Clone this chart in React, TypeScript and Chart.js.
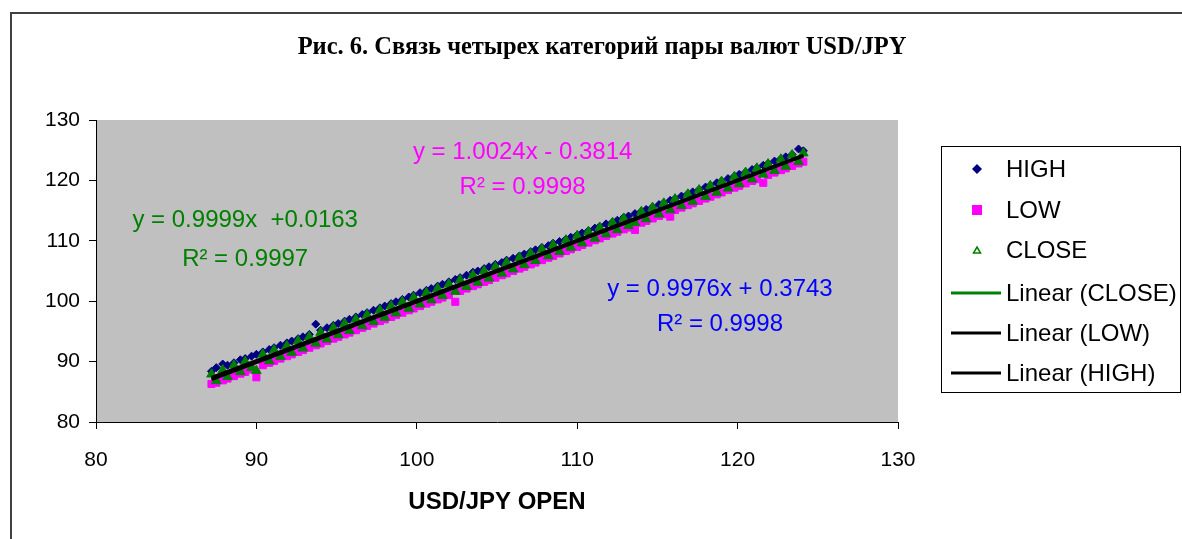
import { useEffect, useRef } from "react";
import { Chart, registerables } from "chart.js";

Chart.register(...registerables);

const OPEN = [
  87.2, 87.5, 87.9, 88.2, 88.6, 89.0, 89.3, 89.7, 90.0, 90.4,
  90.8, 91.1, 91.5, 91.9, 92.2, 92.6, 92.9, 93.3, 93.7, 94.0,
  94.4, 94.8, 95.1, 95.5, 95.8, 96.2, 96.6, 96.9, 97.3, 97.7,
  98.0, 98.4, 98.7, 99.1, 99.5, 99.8, 100.2, 100.6, 100.9, 101.3,
  101.6, 102.0, 102.4, 102.7, 103.1, 103.5, 103.8, 104.2, 104.5, 104.9,
  105.3, 105.6, 106.0, 106.4, 106.7, 107.1, 107.4, 107.8, 108.2, 108.5,
  108.9, 109.3, 109.6,
  110.0, 110.3, 110.7, 111.1, 111.4, 111.8, 112.2, 112.5, 112.9, 113.2,
  113.6, 114.0, 114.3, 114.7, 115.1, 115.4, 115.8, 116.1, 116.5, 116.9,
  117.2, 117.6, 118.0, 118.3, 118.7, 119.0, 119.4, 119.8, 120.1, 120.5,
  120.9, 121.2, 121.6, 121.9, 122.3, 122.7, 123.0, 123.4, 123.8, 124.1,
];

const HIGH = [
  88.4, 89.0, 89.6, 89.4, 89.8, 90.3, 90.5, 90.9, 91.2, 91.6,
  92.0, 92.3, 92.7, 93.1, 93.4, 93.8, 94.1, 94.5, 96.2, 95.2,
  95.6, 96.0, 96.3, 96.7, 97.0, 97.4, 97.8, 98.1, 98.5, 98.9,
  99.2, 99.6, 99.9, 100.3, 100.7, 101.0, 101.4, 101.8, 102.1, 102.5,
  102.8, 103.2, 103.6, 103.9, 104.3, 104.8, 105.0, 105.4, 105.7, 106.1,
  106.4, 106.8, 107.1, 107.5, 107.8, 108.2, 108.5, 108.9, 109.2, 109.6,
  109.9, 110.3, 110.6,
  111.0, 111.3, 111.7, 112.1, 112.4, 112.8, 113.1, 113.4, 113.9, 114.1,
  114.5, 114.9, 115.2, 115.6, 116.0, 116.3, 116.7, 117.0, 117.4, 117.8,
  118.1, 118.5, 118.9, 119.2, 119.6, 119.9, 120.3, 120.7, 121.0, 121.4,
  121.8, 122.1, 122.5, 122.8, 123.2, 123.6, 123.9, 124.3, 125.2, 124.9,
];

const LOW = [
  86.3, 86.5, 86.9, 87.2, 87.6, 88.0, 88.3, 88.7, 87.4, 89.4,
  89.8, 90.1, 90.5, 90.9, 91.2, 91.6, 91.9, 92.3, 92.7, 93.0,
  93.4, 93.8, 94.1, 94.5, 94.8, 95.2, 95.6, 95.9, 96.3, 96.7,
  97.0, 97.4, 97.7, 98.1, 98.5, 98.8, 99.2, 99.6, 99.9, 100.3,
  100.6, 101.0, 99.9, 101.7, 102.1, 102.5, 102.8, 103.2, 103.5, 103.9,
  104.3, 104.6, 105.0, 105.4, 105.7, 106.1, 106.4, 106.8, 107.2, 107.5,
  107.9, 108.3, 108.6,
  109.0, 109.3, 109.7, 110.1, 110.4, 110.8, 111.2, 111.5, 111.9, 112.2,
  111.8, 113.0, 113.3, 113.7, 114.1, 114.4, 114.0, 115.1, 115.5, 115.9,
  116.2, 116.6, 117.0, 117.3, 117.7, 118.0, 118.4, 118.8, 119.1, 119.5,
  119.9, 120.2, 119.6, 120.9, 121.3, 121.7, 122.0, 122.4, 122.8, 123.1,
];

const CLOSE = [
  87.9, 86.8, 88.6, 87.5, 89.4, 88.3, 90.0, 89.0, 88.5, 91.2,
  90.1, 91.9, 90.8, 92.6, 91.5, 93.4, 92.2, 94.1, 93.0, 94.8,
  93.7, 95.6, 94.4, 96.3, 95.1, 97.0, 95.9, 97.7, 96.6, 98.5,
  97.3, 99.2, 98.0, 99.9, 98.8, 100.6, 99.5, 101.4, 100.2, 102.1,
  100.9, 102.8, 101.6, 103.5, 102.4, 104.3, 103.1, 105.0, 103.8, 105.7,
  104.6, 106.4, 105.3, 107.2, 106.0, 107.9, 106.7, 108.6, 107.5, 109.3,
  108.2, 110.1, 108.9,
  110.8, 109.6, 111.5, 110.4, 112.2, 111.1, 113.0, 111.8, 113.7, 112.5,
  113.0, 114.8, 113.6, 115.5, 114.4, 116.2, 115.1, 116.9, 115.8, 117.7,
  116.5, 118.4, 117.3, 119.1, 118.0, 119.8, 118.7, 120.6, 119.4, 121.3,
  120.2, 122.0, 121.0, 122.7, 121.6, 123.5, 122.3, 124.2, 123.1, 124.5,
];

const SERIES_LABELS = ["HIGH", "LOW", "CLOSE"];
const TREND_LABELS = ["Linear (CLOSE)", "Linear (LOW)", "Linear (HIGH)"];
// trend equations as printed on the chart: CLOSE, LOW, HIGH
const TREND_SLOPE = [0.9999, 1.0024, 0.9976];
const TREND_INTERCEPT = [0.0163, -0.3814, 0.3743];
const EQUATION_TEXT = ["y = 0.9999x  +0.0163", "y = 1.0024x - 0.3814", "y = 0.9976x + 0.3743"];
const R2_TEXT = ["R² = 0.9997", "R² = 0.9998", "R² = 0.9998"];
const X_TICKS = [80, 90, 100, 110, 120, 130];
const Y_TICKS = [80, 90, 100, 110, 120, 130];
const TITLE = "Рис. 6. Связь четырех категорий пары валют USD/JPY";
const X_TITLE = "USD/JPY OPEN";

// label placement (data coordinates of text centres)
const EQ_POS = [
  { x: 89.3, y1: 113.3, y2: 106.9 },
  { x: 106.6, y1: 124.6, y2: 118.9 },
  { x: 118.9, y1: 101.9, y2: 96.1 },
];
const EQ_COLORS = ["#008000", "#FF00FF", "#0000FF"];

const SANS = '"Liberation Sans", Arial, sans-serif';
const SERIF = '"Liberation Serif", "Times New Roman", serif';

const decorPlugin = {
  id: "decor",
  beforeDraw(chart: any) {
    const { ctx, chartArea: a } = chart;
    ctx.save();
    ctx.fillStyle = "#ffffff";
    ctx.fillRect(0, 0, chart.width, chart.height);
    ctx.fillStyle = "#C0C0C0";
    ctx.fillRect(a.left, a.top, a.right - a.left, a.bottom - a.top);
    ctx.restore();
  },
  afterDraw(chart: any) {
    const { ctx } = chart;
    const xs = chart.scales.x;
    const ys = chart.scales.y;
    ctx.save();
    // outer frame
    ctx.fillStyle = "#404040";
    ctx.fillRect(10, 12, 2, chart.height);
    ctx.fillRect(10, 12, chart.width, 2);

    // title
    ctx.fillStyle = "#000";
    ctx.font = `bold 24.5px ${SERIF}`;
    ctx.textAlign = "center";
    ctx.textBaseline = "middle";
    ctx.fillText(TITLE, 602, 48);

    // equations
    ctx.font = `24px ${SANS}`;
    for (let k = 0; k < 3; k++) {
      const p = EQ_POS[k];
      ctx.fillStyle = EQ_COLORS[k];
      const cx = xs.getPixelForValue(p.x);
      ctx.fillText(EQUATION_TEXT[k], cx, ys.getPixelForValue(p.y1));
      ctx.fillText(R2_TEXT[k], cx, ys.getPixelForValue(p.y2));
    }

    // legend
    const L = { left: 941, top: 146, right: 1181, bottom: 393 };
    ctx.strokeStyle = "#000";
    ctx.lineWidth = 1;
    ctx.strokeRect(L.left + 0.5, L.top + 0.5, L.right - L.left - 1, L.bottom - L.top - 1);
    const rowsY = [169, 210, 250, 293, 333, 373];
    ctx.font = `24px ${SANS}`;
    ctx.textAlign = "left";
    chart.data.datasets.forEach((ds: any, i: number) => {
      const y = rowsY[i];
      const mx = 977;
      if (ds.showLine) {
        ctx.strokeStyle = ds.borderColor;
        ctx.lineWidth = 3;
        ctx.beginPath();
        ctx.moveTo(951, y);
        ctx.lineTo(1001, y);
        ctx.stroke();
      } else if (ds.pointStyle === "rectRot") {
        ctx.fillStyle = ds.backgroundColor;
        ctx.beginPath();
        ctx.moveTo(mx, y - 5);
        ctx.lineTo(mx + 5, y);
        ctx.lineTo(mx, y + 5);
        ctx.lineTo(mx - 5, y);
        ctx.closePath();
        ctx.fill();
      } else if (ds.pointStyle === "rect") {
        ctx.fillStyle = ds.backgroundColor;
        ctx.fillRect(mx - 5, y - 5, 10, 10);
      } else {
        ctx.fillStyle = "#ffffff";
        ctx.strokeStyle = ds.borderColor;
        ctx.lineWidth = 1.5;
        ctx.beginPath();
        ctx.moveTo(mx, y - 3);
        ctx.lineTo(mx + 3.5, y + 3);
        ctx.lineTo(mx - 3.5, y + 3);
        ctx.closePath();
        ctx.fill();
        ctx.stroke();
      }
      ctx.fillStyle = "#000";
      ctx.fillText(ds.label, 1006, y + 1);
    });
    ctx.restore();
  },
};

export default function App() {
  const ref = useRef<HTMLCanvasElement>(null);
  useEffect(() => {
    const canvas = ref.current!;
    const pts = (ys: number[]) => OPEN.map((x, i) => ({ x, y: ys[i] }));
    const xMin = Math.min(...OPEN);
    const xMax = Math.max(...OPEN);
    const trend = (k: number) => [
      { x: xMin, y: TREND_SLOPE[k] * xMin + TREND_INTERCEPT[k] },
      { x: xMax, y: TREND_SLOPE[k] * xMax + TREND_INTERCEPT[k] },
    ];
    const tickFont = { family: SANS, size: 21 };
    const chart = new Chart(canvas, {
      type: "scatter",
      data: {
        datasets: [
          {
            label: SERIES_LABELS[0], data: pts(HIGH), pointStyle: "rectRot", pointRadius: 4,
            backgroundColor: "#000080", borderColor: "#000080", borderWidth: 1, order: 6,
          },
          {
            label: SERIES_LABELS[1], data: pts(LOW), pointStyle: "rect", pointRadius: 5,
            backgroundColor: "#FF00FF", borderColor: "#FF00FF", borderWidth: 1, order: 5,
          },
          {
            label: SERIES_LABELS[2], data: pts(CLOSE), pointStyle: "triangle", pointRadius: 5.5,
            backgroundColor: "#008000", borderColor: "#008000", borderWidth: 1, order: 4,
          },
          {
            label: TREND_LABELS[0], data: trend(0), showLine: true, pointRadius: 0,
            borderColor: "#008000", borderWidth: 3, order: 3,
          },
          {
            label: TREND_LABELS[1], data: trend(1), showLine: true, pointRadius: 0,
            borderColor: "#000000", borderWidth: 3, order: 2,
          },
          {
            label: TREND_LABELS[2], data: trend(2), showLine: true, pointRadius: 0,
            borderColor: "#000000", borderWidth: 3, order: 1,
          },
        ] as any,
      },
      options: {
        animation: false,
        responsive: false,
        devicePixelRatio: 1,
        events: [],
        layout: { padding: { top: 120, right: 284, left: 0, bottom: 0 } },
        plugins: { legend: { display: false }, title: { display: false }, tooltip: { enabled: false } },
        scales: {
          x: {
            type: "linear", min: 80, max: 130,
            afterBuildTicks: (s: any) => { s.ticks = X_TICKS.map((v) => ({ value: v })); },
            afterFit: (s: any) => { s.height = 117; },
            ticks: { font: tickFont, color: "#000", padding: 19, maxRotation: 0 },
            grid: { display: true, drawOnChartArea: false, drawTicks: true, tickLength: 7, color: "#000" },
            border: { display: true, color: "#000", width: 1 },
            title: {
              display: true, text: X_TITLE, color: "#000",
              font: { family: SANS, size: 24, weight: "bold" },
              padding: { top: 0, bottom: 22 },
            },
          },
          y: {
            type: "linear", min: 80, max: 130,
            afterBuildTicks: (s: any) => { s.ticks = Y_TICKS.map((v) => ({ value: v })); },
            afterFit: (s: any) => { s.width = 96; },
            ticks: { font: tickFont, color: "#000", padding: 9 },
            grid: { display: true, drawOnChartArea: false, drawTicks: true, tickLength: 7, color: "#000" },
            border: { display: true, color: "#000", width: 1 },
          },
        },
      } as any,
      plugins: [decorPlugin],
    });
    return () => chart.destroy();
  }, []);
  return (
    <div style={{ position: "fixed", left: 0, top: 0, width: 1182, height: 539 }}>
      <canvas ref={ref} width={1182} height={539} style={{ display: "block" }} />
    </div>
  );
}
